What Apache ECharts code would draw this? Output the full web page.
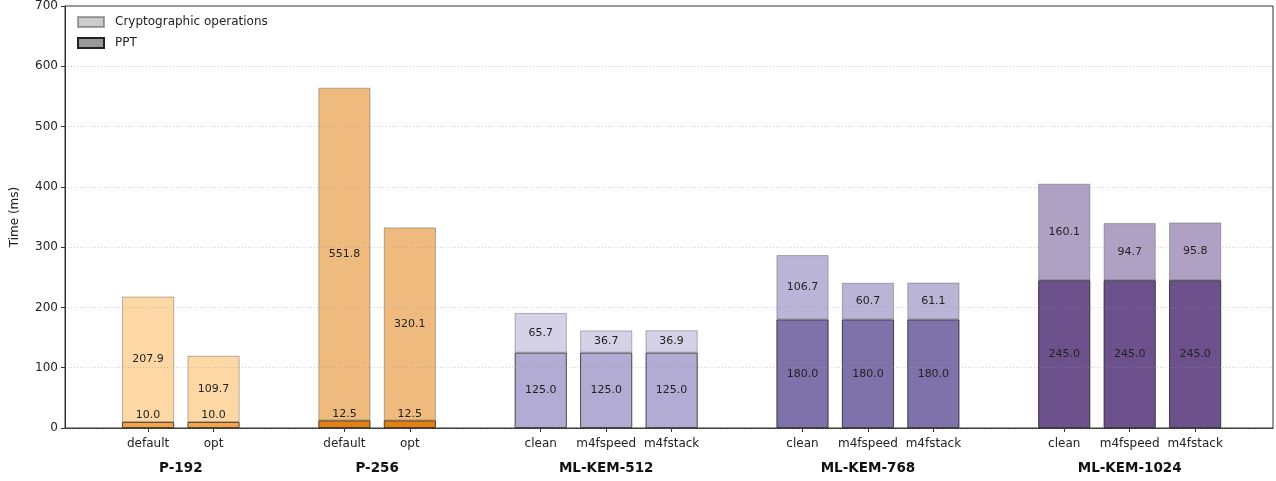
<!DOCTYPE html>
<html>
<head>
<meta charset="utf-8">
<script src="https://cdn.jsdelivr.net/npm/echarts@6/dist/echarts.min.js"></script>
<style>
  html, body { margin: 0; padding: 0; background: #fff; }
  #chart { width: 1276px; height: 481px; }
</style>
</head>
<body>
<div id="chart"></div>
<script>
// bar positions (gap of one slot between groups)
var positions = [0, 1, 3, 4, 6, 7, 8, 10, 11, 12, 14, 15, 16];
var barLabels = ['default', 'opt', 'default', 'opt', 'clean', 'm4fspeed', 'm4fstack',
                 'clean', 'm4fspeed', 'm4fstack', 'clean', 'm4fspeed', 'm4fstack'];
var groupPositions = [0.5, 3.5, 7, 11, 15];
var groupNames = ['P-192', 'P-256', 'ML-KEM-512', 'ML-KEM-768', 'ML-KEM-1024'];
var pptValues = [10.0, 10.0, 12.5, 12.5, 125.0, 125.0, 125.0, 180.0, 180.0, 180.0, 245.0, 245.0, 245.0];
var cryptoValues = [207.9, 109.7, 551.8, 320.1, 65.7, 36.7, 36.9, 106.7, 60.7, 61.1, 160.1, 94.7, 95.8];
var pptColors = ['#f5a545', '#f5a545', '#e3800f', '#e3800f', '#b2acd4', '#b2acd4', '#b2acd4',
                 '#7f71aa', '#7f71aa', '#7f71aa', '#6c518c', '#6c518c', '#6c518c'];
var cryptoColors = ['#fdd7a4', '#fdd7a4', '#eeba7e', '#eeba7e', '#d5d1e7', '#d5d1e7', '#d5d1e7',
                    '#bab4d6', '#bab4d6', '#bab4d6', '#afa1c4', '#afa1c4', '#afa1c4'];

var font = 'DejaVu Sans';
var xMin = -1.27, xMax = 17.19;

// value first, position second (so the value dimension is the stacked one)
var pptData = [];
var cryptoData = [];
for (var i = 0; i < positions.length; i++) {
  var p = {
    value: [pptValues[i], positions[i]],
    itemStyle: { color: pptColors[i] }
  };
  if (pptValues[i] < 30) {
    p.label = { position: 'top', distance: 1 };
  }
  pptData.push(p);
  cryptoData.push({
    value: [cryptoValues[i], positions[i]],
    itemStyle: { color: cryptoColors[i] }
  });
}

function valueLabel(params) {
  return params.value[0].toFixed(1);
}

var chart = echarts.init(document.getElementById('chart'));
chart.setOption({
  animation: false,
  textStyle: { fontFamily: font },
  legend: {
    orient: 'vertical',
    left: 72,
    top: 11,
    itemWidth: 26,
    itemHeight: 10,
    itemGap: 9,
    icon: 'rect',
    textStyle: { fontFamily: font, fontSize: 12, color: '#222', padding: [0, 0, 0, 6] },
    data: ['Cryptographic operations', 'PPT']
  },
  grid: {
    left: 65, right: 3, top: 6, bottom: 53,
    show: true, borderColor: '#333', borderWidth: 1
  },
  xAxis: [{
    type: 'value',
    min: xMin,
    max: xMax,
    splitLine: { show: false },
    axisLine: { show: true, onZero: false, lineStyle: { color: '#333' } },
    axisTick: { show: true, customValues: positions, length: 4, lineStyle: { color: '#333' } },
    axisLabel: {
      customValues: positions,
      margin: 10,
      fontSize: 12,
      color: '#222',
      fontFamily: font,
      formatter: function (v) {
        var k = positions.indexOf(Math.round(v));
        return k >= 0 ? barLabels[k] : '';
      }
    }
  }, {
    type: 'value',
    position: 'bottom',
    min: xMin,
    max: xMax,
    offset: 25,
    splitLine: { show: false },
    axisLine: { show: false },
    axisTick: { show: false },
    axisLabel: {
      customValues: groupPositions,
      fontSize: 13.5,
      fontWeight: 'bold',
      color: '#111',
      fontFamily: font,
      formatter: function (v) {
        for (var j = 0; j < groupPositions.length; j++) {
          if (Math.abs(groupPositions[j] - v) < 0.01) return groupNames[j];
        }
        return '';
      }
    }
  }],
  yAxis: {
    type: 'value',
    min: 0,
    max: 700,
    interval: 100,
    z: 5,
    name: 'Time (ms)',
    nameLocation: 'middle',
    nameGap: 44,
    nameTextStyle: { fontFamily: font, fontSize: 12, color: '#222' },
    axisLine: { show: true, onZero: false, lineStyle: { color: '#333' } },
    axisTick: { show: true, length: 4, lineStyle: { color: '#333' } },
    axisLabel: { fontSize: 12, color: '#222', fontFamily: font, margin: 7 },
    splitLine: { show: true, lineStyle: { color: 'rgba(150,150,150,0.45)', type: [1, 2], width: 1 } }
  },
  series: [{
    name: 'PPT',
    type: 'bar',
    stack: 'total',
    barWidth: 52,
    encode: { x: 1, y: 0 },
    itemStyle: { color: '#999999', borderColor: '#222', borderWidth: 0.8 },
    label: {
      show: true, position: 'inside', formatter: valueLabel,
      fontSize: 11, color: '#222', fontFamily: font
    },
    data: pptData
  }, {
    name: 'Cryptographic operations',
    type: 'bar',
    stack: 'total',
    barWidth: 52,
    encode: { x: 1, y: 0 },
    itemStyle: { color: '#cccccc', borderColor: 'rgba(60,60,60,0.45)', borderWidth: 0.8 },
    label: {
      show: true, position: 'inside', formatter: valueLabel,
      fontSize: 11, color: '#222', fontFamily: font
    },
    data: cryptoData
  }]
});
</script>
</body>
</html>
